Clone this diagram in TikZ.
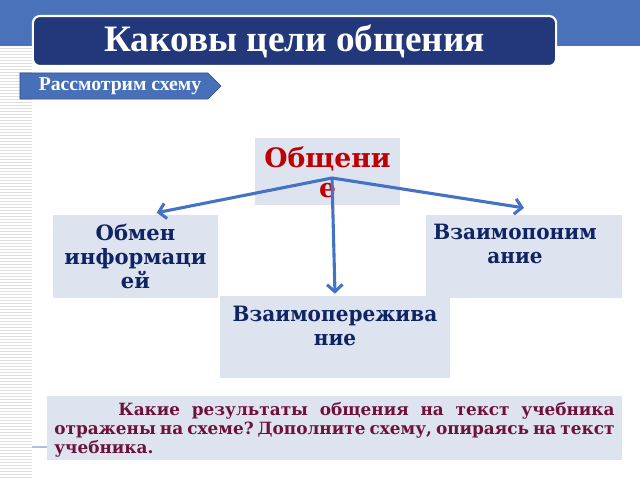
\documentclass[tikz,border=0pt]{standalone}
\usepackage{fontspec}
\setmainfont{DejaVu Serif}
\newfontfamily\titlefont{Liberation Serif}
\usepackage{xcolor}
\usetikzlibrary{arrows.meta, shapes.symbols, calc}
\definecolor{bandblue}{RGB}{74,114,186}
\definecolor{titleblue}{RGB}{35,56,122}
\definecolor{labelblue}{RGB}{72,112,184}
\definecolor{labeldark}{RGB}{48,78,145}
\definecolor{boxfill}{RGB}{221,228,240}
\definecolor{arrowblue}{RGB}{68,114,196}
\definecolor{navytext}{RGB}{16,36,100}
\definecolor{maroontext}{RGB}{110,18,58}
\definecolor{stripegray}{RGB}{222,222,222}
\newcommand{\boxtext}[3]{\begin{minipage}[c][#2][t]{#1}\vspace*{6.5pt}\centering #3\end{minipage}}

\begin{document}
\begin{tikzpicture}[x=0.025cm, y=-0.025cm]
\tikzset{box/.style={fill=boxfill, inner sep=0pt, text=navytext, font=\bfseries\fontsize{15}{17}\selectfont},
  arrowline/.style={draw=arrowblue, line width=2.2pt, -{Straight Barb[length=5pt, width=11pt]}}}
\useasboundingbox (0,0) rectangle (640,480);
% the band on top
\fill[bandblue] (0,0) rectangle (640,46);
% stripes on the left
\foreach \y in {48,51,...,480} {
\draw[stripegray, line width=0.5pt] (0,\y) -- (32,\y);
}
% title and label
\node (title) at (294.5,41) [rounded corners=5pt, fill=titleblue, draw=white, line width=1.5pt,
  minimum width=13.075cm, minimum height=1.25cm, text=white,
  font=\titlefont\bfseries\fontsize{26.5}{30}\selectfont] {Каковы цели общения};
\node (rassm) at (114,86) [signal, signal to=east, signal from=nowhere, fill=labelblue, draw=labeldark,
  inner sep=0pt, minimum width=5.025cm, minimum height=0.65cm, text=white,
  font=\titlefont\bfseries\fontsize{14}{16}\selectfont] {\hspace*{0.3cm}Рассмотрим схему};
% the scheme
\node (obsh) at (327.5,171.5) [box, text=red!75!black, font=\bfseries\fontsize{19}{21}\selectfont]
  {\boxtext{3.625cm}{1.675cm}{Общени\\е}};
\node (obmen) at (135.5,256.5) [box] {\boxtext{4.125cm}{2.075cm}{Обмен\\информаци\\ей}};
\node (ponim) at (524,256.5) [box] {\boxtext{4.9cm}{2.075cm}{\addfontfeature{FakeStretch=0.95}Взаимопоним\kern0.45cm\\ание\kern0.45cm}};
\node (perezh) at (335,337) [box] {\boxtext{5.75cm}{2.05cm}{\vspace*{1pt}\addfontfeature{FakeStretch=0.95}Взаимопережива\\ние}};
\coordinate (hub) at (332,178);
\draw[arrowline] (hub) -- ([xshift=0.53cm, yshift=0.05cm]obmen.north);
\draw[arrowline] (hub) -- ([yshift=0.17cm]ponim.north);
\draw[arrowline] (hub) -- ([yshift=0.05cm]perezh.north);
% the question
\node (question) at (334.5,428) [fill=boxfill, inner xsep=0.19cm, inner ysep=0pt, text=maroontext,
  font=\bfseries\fontsize{12}{13.5}\selectfont]
  {\begin{minipage}[c][1.6cm][t]{14cm}\frenchspacing\vspace*{4.5pt}\hspace*{1.6cm}Какие результаты общения на текст учебника\linebreak
   отражены на схеме? Дополните схему, опираясь на текст\linebreak учебника.\end{minipage}};
\draw[arrowblue!45, line width=0.8pt] (32,447) -- (question.west |- 32,447);
\end{tikzpicture}
\end{document}
